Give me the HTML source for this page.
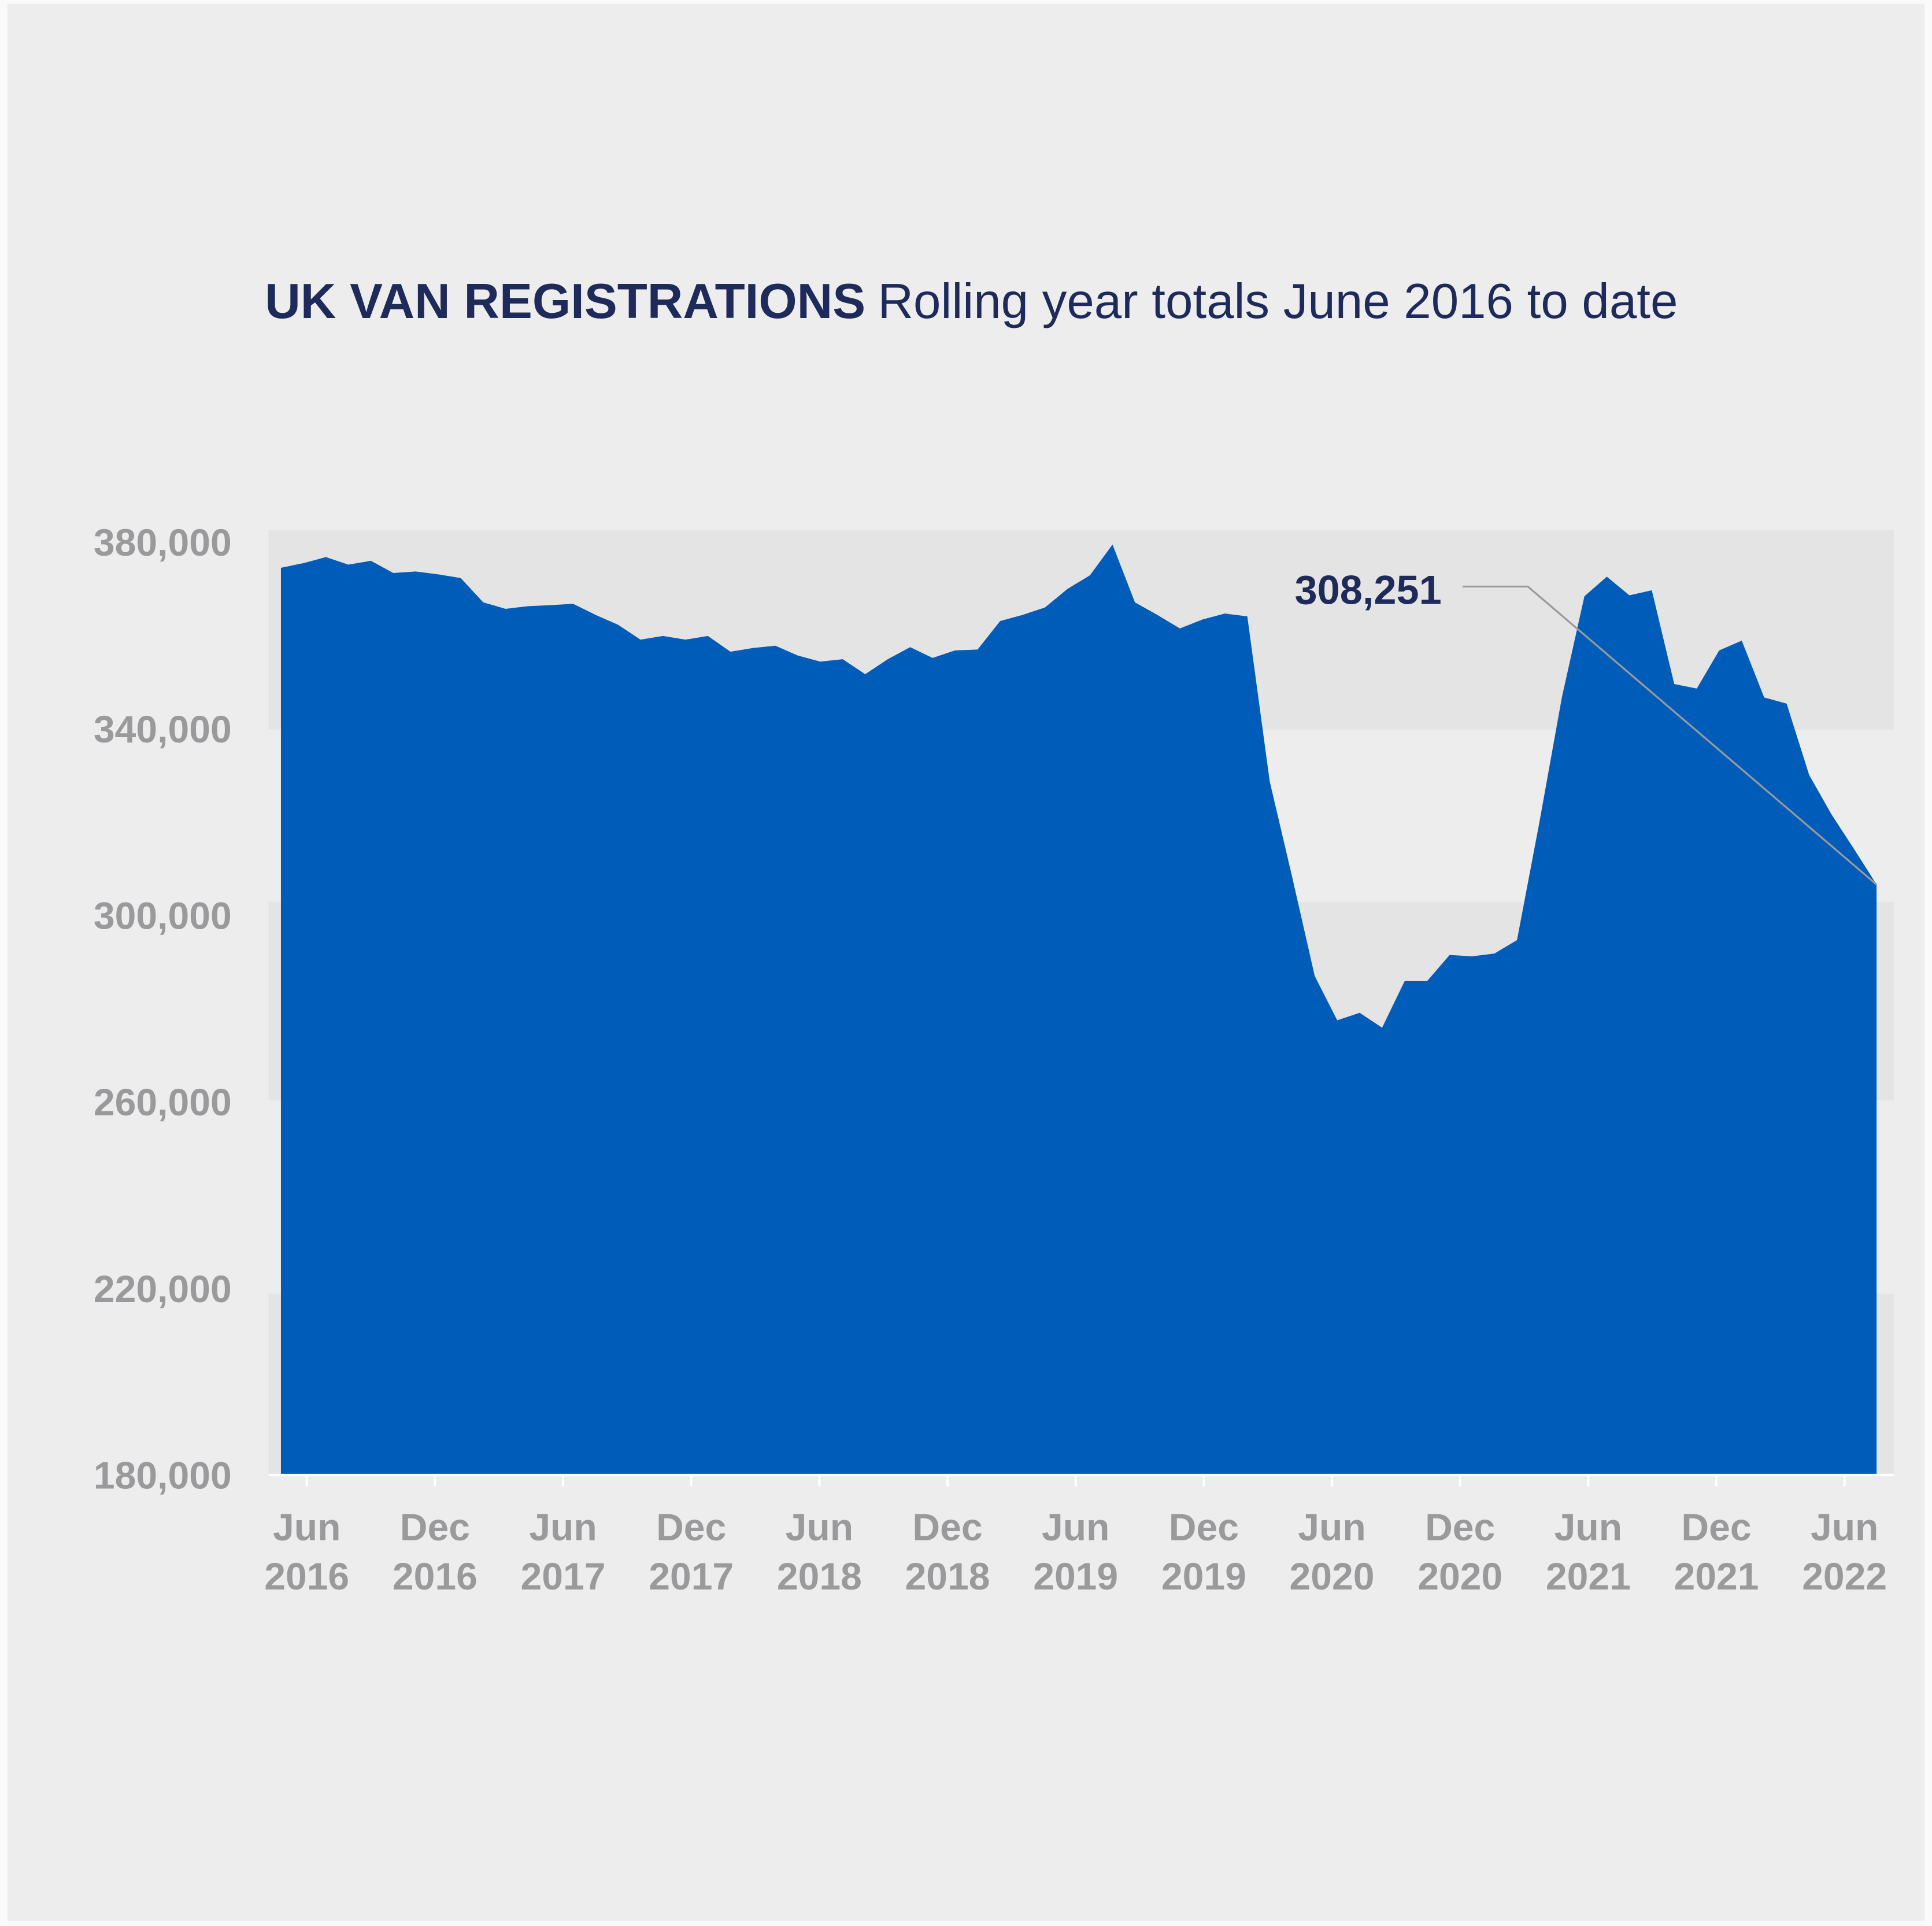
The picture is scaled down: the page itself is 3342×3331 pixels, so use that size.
<!DOCTYPE html>
<html><head><meta charset="utf-8"><style>
html,body{margin:0;padding:0;background:#ededed;}
svg{display:block;}
text{font-family:"Liberation Sans",sans-serif;}
</style></head><body>
<svg id="chart" width="3342" height="3331" viewBox="0 0 1568 1563" preserveAspectRatio="none" xmlns="http://www.w3.org/2000/svg">
<rect x="0" y="0" width="1568" height="1563" fill="#fafafa"/>
<rect x="6" y="3" width="1556" height="1556" fill="#ededed"/>
<text x="215" y="258" font-size="40" fill="#1e2a5a"><tspan font-weight="bold">UK VAN REGISTRATIONS</tspan><tspan dx="10">Rolling year totals June 2016 to date</tspan></text>
<g id="bands"></g>
<g id="yaxis"></g>
<path id="area" fill="#005cb9"/>
<g id="xaxis"></g>
<g id="annot"></g>
</svg>
<script>
const values = [374.5,375.5,376.8,375.2,376.0,373.4,373.7,373.1,372.3,367.1,365.7,366.3,366.5,366.8,364.4,362.3,359.1,359.9,359.1,359.9,356.5,357.3,357.8,355.7,354.4,354.9,351.7,354.9,357.5,355.2,356.8,357.0,363.1,364.4,366.0,370.0,372.9,379.5,367.1,364.4,361.5,363.4,364.7,364.1,328.7,308.1,287.0,277.5,279.1,275.9,285.9,285.9,291.5,291.2,291.8,294.7,320.0,346.7,368.4,372.6,368.6,369.7,349.6,348.6,356.8,358.9,346.7,345.4,330.1,321.6,314.2,306.6];
const yTicks = [180000,220000,260000,300000,340000,380000];
const xLabels = [["Jun","2016"],["Dec","2016"],["Jun","2017"],["Dec","2017"],["Jun","2018"],["Dec","2018"],["Jun","2019"],["Dec","2019"],["Jun","2020"],["Dec","2020"],["Jun","2021"],["Dec","2021"],["Jun","2022"]];
const latestLabel = "308,251";

const NS="http://www.w3.org/2000/svg";
const Y0=1197, PX_PER_K=757/200;
const y = v => Y0 - (v-180)*PX_PER_K;
const x = i => 228 + i*(1523-228)/(values.length-1);
const xl = i => 249 + i*(1497-249)/(xLabels.length-1);
function mk(tag, attrs, parent){const e=document.createElementNS(NS,tag);for(const k in attrs)e.setAttribute(k,attrs[k]);parent.appendChild(e);return e;}

const bands=document.getElementById('bands');
[[430,592],[732,893],[1050,1197]].forEach(b=>{
  const r=mk('rect',{x:218,y:b[0],width:1319,height:b[1]-b[0],fill:'#e4e4e4'},bands);
  
  
});

const ya=document.getElementById('yaxis');
yTicks.forEach(t=>{
  const tx=mk('text',{x:188,y:y(t/1000)+11,'text-anchor':'end','font-size':31,'font-weight':'bold',fill:'#9a9a9c'},ya);
  tx.textContent=t.toLocaleString('en-US');
  
  
});

let d='M'+x(0)+','+Y0;
values.forEach((v,i)=>{d+=' L'+x(i).toFixed(1)+','+y(v).toFixed(1);});
d+=' L'+x(values.length-1)+','+Y0+' Z';
document.getElementById('area').setAttribute('d',d);

const xa=document.getElementById('xaxis');
const ln=mk('line',{x1:218,y1:Y0,x2:1537,y2:Y0,stroke:'#ffffff','stroke-width':2},xa);


xLabels.forEach((l,i)=>{
  const tk=mk('line',{x1:xl(i),y1:Y0,x2:xl(i),y2:Y0+9,stroke:'#ffffff','stroke-width':2},xa);
  
  
  const tx=mk('text',{x:xl(i),y:1250,'text-anchor':'middle','font-size':31,'font-weight':'bold',fill:'#9a9a9c'},xa);
  
  
  const a=mk('tspan',{x:xl(i),dy:0},tx);a.textContent=l[0];
  const b=mk('tspan',{x:xl(i),dy:40},tx);b.textContent=l[1];
});

const an=document.getElementById('annot');
const lx=x(values.length-1), ly=y(values[values.length-1]);
const pl=mk('polyline',{points:`1187,476 1240,476 ${lx},${ly}`,fill:'none',stroke:'#9a9a9c','stroke-width':1.5},an);


const at=mk('text',{x:1170,y:490,'text-anchor':'end','font-size':33,'font-weight':'bold',fill:'#1e2a5a'},an);
at.textContent=latestLabel;


</script>
</body></html>
